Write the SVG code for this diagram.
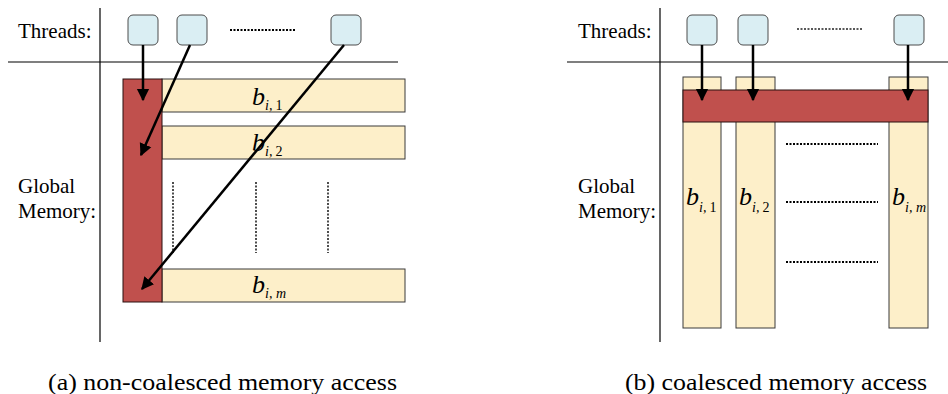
<svg xmlns="http://www.w3.org/2000/svg" width="948" height="394" viewBox="0 0 948 394">
  <style>
    .axis { stroke: #000; stroke-width: 1.2; fill: none; }
    .thread { fill: #daeef3; stroke: #4d4d4d; stroke-width: 1; }
    .block { fill: #fdefc9; stroke: #3a3a3a; stroke-width: 1; }
    .seg { fill: #c0504d; stroke: #2a1010; stroke-width: 1; }
    .dots { stroke: #000; stroke-width: 2; stroke-dasharray: 2 1.5; fill: none; }
    .vdots { stroke: #222; stroke-width: 1.6; stroke-dasharray: 2 1.5; fill: none; }
    .conn { stroke: #000; stroke-width: 2.5; fill: none; marker-end: url(#head); }
  </style>
  <defs>
    <marker id="head" viewBox="0 0 10 10" refX="9" refY="5" markerWidth="5" markerHeight="5.5" orient="auto" markerUnits="strokeWidth">
      <path d="M0,0 L10,5 L0,10 Z" fill="#000"/>
    </marker>
  </defs>

  <!-- (a) non-coalesced access -->
  <g id="panel-a">
    <line class="axis" x1="8" y1="62" x2="398" y2="62"/>
    <line class="axis" x1="100" y1="8" x2="100" y2="342"/>
    <text x="18" y="38" font-family="Times New Roman" font-size="21">Threads:</text>
    <text x="18" y="193" font-family="Times New Roman" font-size="21">Global</text>
    <text x="18" y="218" font-family="Times New Roman" font-size="21">Memory:</text>
    <line class="dots" x1="230" y1="30" x2="296" y2="30"/>
    <g id="a-thread-1"><rect class="thread" x="128" y="15" width="30" height="30" rx="5"/></g>
    <g id="a-thread-2"><rect class="thread" x="177" y="15" width="30" height="30" rx="5"/></g>
    <g id="a-thread-m"><rect class="thread" x="331" y="15" width="30" height="30" rx="5"/></g>
    <g id="a-block-1">
      <rect class="block" x="162" y="79" width="243" height="33"/>
      <text x="252" y="105" font-family="Times New Roman" font-style="italic" font-size="26">b<tspan font-size="14" dy="5">i,</tspan><tspan font-size="14" font-style="normal" dx="3">1</tspan></text>
    </g>
    <g id="a-block-2">
      <rect class="block" x="162" y="126" width="243" height="33"/>
      <text x="252" y="151" font-family="Times New Roman" font-style="italic" font-size="26">b<tspan font-size="14" dy="5">i,</tspan><tspan font-size="14" font-style="normal" dx="3">2</tspan></text>
    </g>
    <g id="a-block-m">
      <rect class="block" x="162" y="269" width="243" height="33"/>
      <text x="252" y="293" font-family="Times New Roman" font-style="italic" font-size="26">b<tspan font-size="14" dy="5">i, m</tspan></text>
    </g>
    <line class="vdots" x1="173" y1="182" x2="173" y2="253"/>
    <line class="vdots" x1="256" y1="182" x2="256" y2="253"/>
    <line class="vdots" x1="328" y1="182" x2="328" y2="253"/>
    <g id="a-access"><rect class="seg" x="123" y="79" width="39" height="223"/></g>
  </g>

  <!-- (b) coalesced access -->
  <g id="panel-b">
    <line class="axis" x1="567" y1="62" x2="948" y2="62"/>
    <line class="axis" x1="660" y1="8" x2="660" y2="342"/>
    <text x="578" y="38" font-family="Times New Roman" font-size="21">Threads:</text>
    <text x="578" y="193" font-family="Times New Roman" font-size="21">Global</text>
    <text x="578" y="218" font-family="Times New Roman" font-size="21">Memory:</text>
    <line class="vdots" x1="797" y1="29" x2="863" y2="29"/>
    <g id="b-thread-1"><rect class="thread" x="687" y="15" width="30" height="30" rx="5"/></g>
    <g id="b-thread-2"><rect class="thread" x="738" y="15" width="30" height="30" rx="5"/></g>
    <g id="b-thread-m"><rect class="thread" x="894" y="15" width="30" height="30" rx="5"/></g>
    <g id="b-block-1">
      <rect class="block" x="683" y="77" width="38" height="251"/>
      <text x="686" y="205" font-family="Times New Roman" font-style="italic" font-size="26">b<tspan font-size="14" dy="7">i,</tspan><tspan font-size="14" font-style="normal" dx="3">1</tspan></text>
    </g>
    <g id="b-block-2">
      <rect class="block" x="736" y="77" width="39" height="251"/>
      <text x="739" y="205" font-family="Times New Roman" font-style="italic" font-size="26">b<tspan font-size="14" dy="7">i,</tspan><tspan font-size="14" font-style="normal" dx="3">2</tspan></text>
    </g>
    <g id="b-block-m">
      <rect class="block" x="889" y="77" width="39" height="251"/>
      <text x="892" y="205" font-family="Times New Roman" font-style="italic" font-size="26">b<tspan font-size="14" dy="7">i, m</tspan></text>
    </g>
    <line class="dots" x1="786" y1="144" x2="878" y2="144"/>
    <line class="dots" x1="786" y1="202" x2="878" y2="202"/>
    <line class="dots" x1="786" y1="262" x2="878" y2="262"/>
    <g id="b-access"><rect class="seg" x="683" y="90" width="245" height="32"/></g>
  </g>

  <!-- thread-to-memory accesses -->
  <g id="connectors">
    <line class="conn" x1="143" y1="45" x2="143" y2="100"/>
    <line class="conn" x1="190" y1="45" x2="141" y2="155"/>
    <line class="conn" x1="344" y1="45" x2="142" y2="289"/>
    <line class="conn" x1="702" y1="45" x2="702" y2="100"/>
    <line class="conn" x1="753" y1="45" x2="753" y2="100"/>
    <line class="conn" x1="908" y1="45" x2="908" y2="100"/>
  </g>

  <text x="48" y="390" font-family="Times New Roman" font-size="24" textLength="349" lengthAdjust="spacingAndGlyphs">(a) non-coalesced memory access</text>
  <text x="625" y="390" font-family="Times New Roman" font-size="24" textLength="302" lengthAdjust="spacingAndGlyphs">(b) coalesced memory access</text>
</svg>
